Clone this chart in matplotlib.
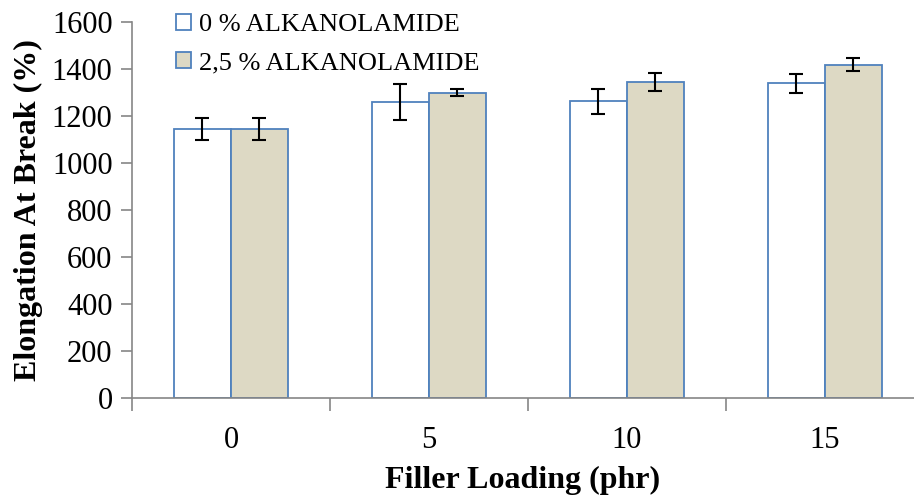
import numpy as np
import matplotlib.pyplot as plt

plt.rcParams['font.family'] = ['Liberation Serif', 'DejaVu Serif']

categories = ['0', '5', '10', '15']
series_names = ['0 % ALKANOLAMIDE', '2,5 % ALKANOLAMIDE']
vals_0 = [1145, 1260, 1262, 1340]
err_0 = [48, 75, 52, 40]
vals_25 = [1145, 1300, 1344, 1418]
err_25 = [48, 14, 38, 28]

fig = plt.figure(figsize=(9.14, 4.97), dpi=100)
ax = fig.add_axes([0.1444, 0.1992, 0.8556, 0.7565])

x = np.arange(len(categories))
w = 0.288
edge = '#4F81BD'
ax.bar(x - w / 2, vals_0, w, color='white', edgecolor=edge, linewidth=1.3,
       label=series_names[0], zorder=2)
ax.bar(x + w / 2, vals_25, w, color='#DDD9C4', edgecolor=edge, linewidth=1.3,
       label=series_names[1], zorder=2)
ax.errorbar(x - w / 2, vals_0, yerr=err_0, fmt='none', ecolor='black',
            elinewidth=1.5, capsize=5, capthick=1.5, zorder=3)
ax.errorbar(x + w / 2, vals_25, yerr=err_25, fmt='none', ecolor='black',
            elinewidth=1.5, capsize=5, capthick=1.5, zorder=3)

ax.set_xlim(-0.5, 3.45)
ax.set_ylim(0, 1600)
ax.set_yticks(range(0, 1601, 200))
ax.set_xticks(x)
ax.set_xticklabels(categories)
ax.set_xticks(np.arange(-0.5, 3, 1), minor=True)
ax.tick_params(axis='x', which='major', length=0, pad=20, labelsize=22)
ax.tick_params(axis='x', which='minor', length=9, color='#868686', width=1.2)
ax.tick_params(axis='y', length=8, color='#868686', width=1.2, labelsize=22, pad=6)

for s in ['top', 'right']:
    ax.spines[s].set_visible(False)
for s in ['left', 'bottom']:
    ax.spines[s].set_color('#868686')
    ax.spines[s].set_linewidth(1.2)

ax.set_xlabel('Filler Loading (phr)', fontsize=23, fontweight='bold', labelpad=8)
ax.set_ylabel('Elongation At Break (%)', fontsize=23, fontweight='bold', labelpad=6)

ax.legend(loc='upper left', bbox_to_anchor=(0.043, 1.05), frameon=False,
          fontsize=19, handlelength=0.55, handleheight=0.55, handletextpad=0.3,
          labelspacing=0.6, borderaxespad=0)

fig.savefig('out.png', dpi=100)
